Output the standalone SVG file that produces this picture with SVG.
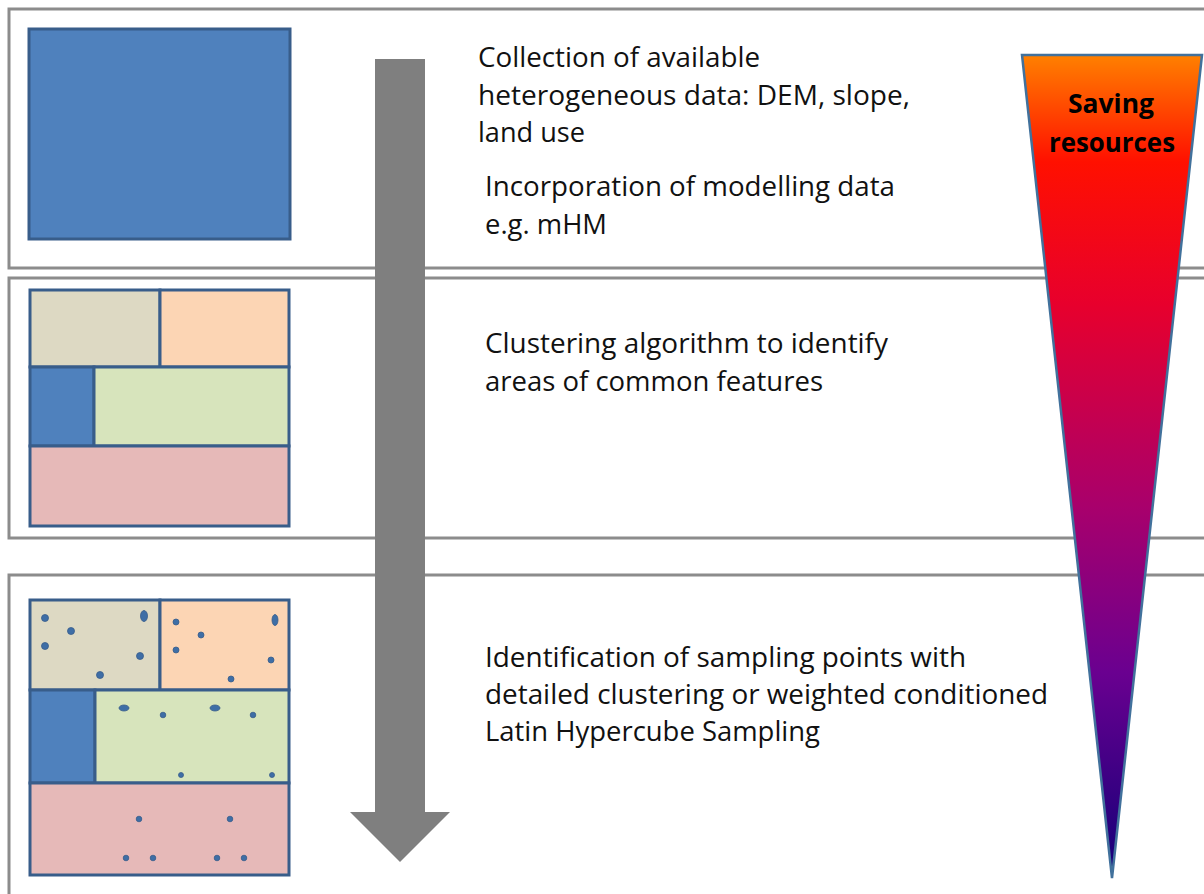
<svg xmlns="http://www.w3.org/2000/svg" width="1204" height="894" viewBox="0 0 1204 894">
<defs>
<linearGradient id="tri" x1="0" y1="0" x2="0" y2="1">
<stop offset="0" stop-color="#ff8000"/>
<stop offset="0.13" stop-color="#ff1000"/>
<stop offset="0.3" stop-color="#e8002c"/>
<stop offset="0.55" stop-color="#a8006c"/>
<stop offset="0.75" stop-color="#6a0090"/>
<stop offset="1" stop-color="#120078"/>
</linearGradient>
</defs>
<style>
.panel{fill:#ffffff;stroke:#8c8c8c;stroke-width:3}
.cell{stroke:#385d8a;stroke-width:3}
.blue{fill:#4f81bd}
.beige{fill:#ddd9c3}
.peach{fill:#fcd5b4}
.green{fill:#d7e4bc}
.pink{fill:#e6b9b8}
.dot{fill:#3e6ea6;stroke:#385d8a;stroke-width:0.8}
.txt{font-family:"Open Sans","Noto Sans",sans-serif;font-size:27px;fill:#111}
.bold{font-family:"Open Sans","Noto Sans",sans-serif;font-size:27px;font-weight:bold;fill:#000;text-anchor:middle}
</style>
<rect width="1204" height="894" fill="#ffffff"/>
<g id="panel1">
<rect class="panel" x="9" y="9" width="1210" height="259"/>
<rect class="cell blue" x="29" y="29" width="261" height="210"/>
<text class="txt" x="478" y="67" textLength="282" lengthAdjust="spacingAndGlyphs">Collection of available</text>
<text class="txt" x="478" y="105" textLength="432" lengthAdjust="spacingAndGlyphs">heterogeneous data: DEM, slope,</text>
<text class="txt" x="478" y="142" textLength="107" lengthAdjust="spacingAndGlyphs">land use</text>
<text class="txt" x="485" y="196" textLength="410" lengthAdjust="spacingAndGlyphs">Incorporation of modelling data</text>
<text class="txt" x="485" y="234" textLength="122" lengthAdjust="spacingAndGlyphs">e.g. mHM</text>
</g>
<g id="panel2">
<rect class="panel" x="9" y="278" width="1210" height="260"/>
<rect class="cell beige" x="30" y="290" width="130" height="77"/>
<rect class="cell peach" x="160" y="290" width="129" height="77"/>
<rect class="cell blue" x="30" y="367" width="64" height="79"/>
<rect class="cell green" x="94" y="367" width="195" height="79"/>
<rect class="cell pink" x="30" y="446" width="259" height="80"/>
<text class="txt" x="485" y="353" textLength="403" lengthAdjust="spacingAndGlyphs">Clustering algorithm to identify</text>
<text class="txt" x="485" y="391" textLength="338" lengthAdjust="spacingAndGlyphs">areas of common features</text>
</g>
<g id="panel3">
<rect class="panel" x="9" y="575" width="1210" height="340"/>
<rect class="cell beige" x="30" y="600" width="130" height="90"/>
<rect class="cell peach" x="160" y="600" width="129" height="90"/>
<rect class="cell blue" x="30" y="690" width="65" height="93"/>
<rect class="cell green" x="95" y="690" width="194" height="93"/>
<rect class="cell pink" x="30" y="783" width="259" height="92"/>
<g id="points">
<circle class="dot" cx="45" cy="618" r="3.5"/>
<ellipse class="dot" cx="144" cy="616" rx="3.5" ry="5.5"/>
<circle class="dot" cx="71" cy="631" r="3.5"/>
<circle class="dot" cx="45" cy="646" r="3.5"/>
<circle class="dot" cx="140" cy="656" r="3.5"/>
<circle class="dot" cx="100" cy="675" r="3.5"/>
<circle class="dot" cx="176" cy="622" r="3"/>
<ellipse class="dot" cx="275" cy="620" rx="3" ry="5.5"/>
<circle class="dot" cx="201" cy="635" r="3"/>
<circle class="dot" cx="176" cy="650" r="3"/>
<circle class="dot" cx="271" cy="660" r="3"/>
<circle class="dot" cx="231" cy="679" r="3"/>
<ellipse class="dot" cx="124" cy="708" rx="5" ry="3"/>
<circle class="dot" cx="163" cy="715" r="2.8"/>
<ellipse class="dot" cx="215" cy="708" rx="5" ry="3"/>
<circle class="dot" cx="253" cy="715" r="2.8"/>
<circle class="dot" cx="181" cy="775" r="2.5"/>
<circle class="dot" cx="272" cy="775" r="2.5"/>
<circle class="dot" cx="139" cy="819" r="2.8"/>
<circle class="dot" cx="230" cy="819" r="2.8"/>
<circle class="dot" cx="126" cy="858" r="2.8"/>
<circle class="dot" cx="153" cy="858" r="2.8"/>
<circle class="dot" cx="217" cy="858" r="2.8"/>
<circle class="dot" cx="244" cy="858" r="2.8"/>
</g>
<text class="txt" x="485" y="667" textLength="481" lengthAdjust="spacingAndGlyphs">Identification of sampling points with</text>
<text class="txt" x="485" y="704" textLength="563" lengthAdjust="spacingAndGlyphs">detailed clustering or weighted conditioned</text>
<text class="txt" x="485" y="741" textLength="335" lengthAdjust="spacingAndGlyphs">Latin Hypercube Sampling</text>
</g>
<g id="connectors">
<polygon points="375,59 425,59 425,812 450,812 400,862 350,812 375,812" fill="#7f7f7f"/>
</g>
<g id="saving">
<polygon points="1022,55 1202,55 1112,878" fill="url(#tri)" stroke="#41719c" stroke-width="2.5" stroke-linejoin="miter"/>
<text class="bold" x="1111" y="113" textLength="86" lengthAdjust="spacingAndGlyphs">Saving</text>
<text class="bold" x="1112" y="152" textLength="126" lengthAdjust="spacingAndGlyphs">resources</text>
</g>
</svg>
